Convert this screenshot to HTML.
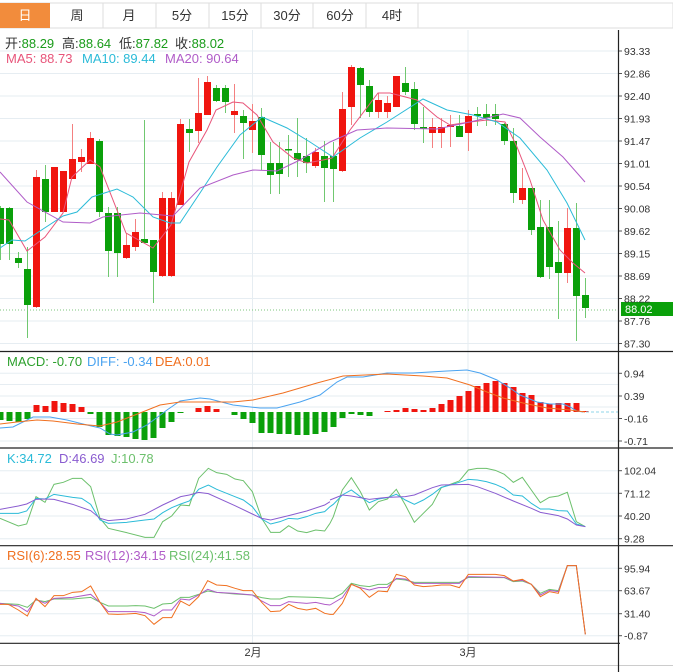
<!DOCTYPE html>
<html><head><meta charset="utf-8"><style>
body{margin:0;background:#fff;width:673px;height:672px;overflow:hidden;font-family:"Liberation Sans","Noto Sans CJK SC",sans-serif;}
svg{position:absolute;left:0;top:0}
text{font-family:"Liberation Sans","Noto Sans CJK SC",sans-serif}
</style></head><body>
<svg id="s" width="673" height="672" xmlns="http://www.w3.org/2000/svg">
<rect x="0" y="3" width="673" height="25" fill="#fff" stroke="#ddd"/>
<rect x="0" y="3" width="50" height="25" fill="#f28c3c"/>
<g stroke="#ddd"><line x1="103" y1="3" x2="103" y2="28"/><line x1="156" y1="3" x2="156" y2="28"/><line x1="209" y1="3" x2="209" y2="28"/><line x1="261" y1="3" x2="261" y2="28"/><line x1="313" y1="3" x2="313" y2="28"/><line x1="366" y1="3" x2="366" y2="28"/><line x1="418" y1="3" x2="418" y2="28"/></g>
<g font-size="13" text-anchor="middle" fill="#333">
<text x="25" y="20" fill="#fff">日</text><text x="77" y="20">周</text><text x="129" y="20">月</text><text x="182" y="20">5分</text><text x="235" y="20">15分</text><text x="287" y="20">30分</text><text x="340" y="20">60分</text><text x="392" y="20">4时</text></g>
<g id="grid" stroke="#e6edf2" stroke-width="1"></g>
<g id="main"></g>
<g font-size="13">
<text x="5" y="48" fill="#333">开:<tspan fill="#1a9c1a">88.29</tspan></text>
<text x="62" y="48" fill="#333">高:<tspan fill="#1a9c1a">88.64</tspan></text>
<text x="119" y="48" fill="#333">低:<tspan fill="#1a9c1a">87.82</tspan></text>
<text x="175" y="48" fill="#333">收:<tspan fill="#1a9c1a">88.02</tspan></text>
<text x="6" y="63" fill="#e8557a">MA5: 88.73</text>
<text x="82" y="63" fill="#2bbbd8">MA10: 89.44</text>
<text x="165" y="63" fill="#b05cc8">MA20: 90.64</text>
<text x="7" y="366" fill="#2ca02c">MACD: -0.70</text>
<text x="87" y="366" fill="#4aa3f0">DIFF: -0.34</text>
<text x="155" y="366" fill="#f07020">DEA:0.01</text>
<text x="7" y="463" fill="#2bbbd8">K:34.72</text>
<text x="59" y="463" fill="#8a5cd0">D:46.69</text>
<text x="111" y="463" fill="#6cc06c">J:10.78</text>
<text x="7" y="560" fill="#f07020">RSI(6):28.55</text>
<text x="85" y="560" fill="#b05cc8">RSI(12):34.15</text>
<text x="169" y="560" fill="#6cc06c">RSI(24):41.58</text>
</g>
<rect x="621" y="302" width="52" height="14" fill="#0aa00a"/>
<text x="625" y="313" font-size="11" fill="#fff">88.02</text>
<g id="axis" font-size="10.5" fill="#333"></g>
<text x="253" y="656" font-size="11" text-anchor="middle" fill="#333">2月</text>
<text x="468" y="656" font-size="11" text-anchor="middle" fill="#333">3月</text>
</svg>
<script>
const S=document.getElementById('s'),G=document.getElementById('grid'),M=document.getElementById('main'),A=document.getElementById('axis');
const NS='http://www.w3.org/2000/svg';
function el(p,t,a){const e=document.createElementNS(NS,t);for(const k in a)e.setAttribute(k,a[k]);p.appendChild(e);return e;}
const mainY=[];for(let i=0;i<14;i++)mainY.push(51+22.5*i);
const priceL=["93.33","92.86","92.40","91.93","91.47","91.01","90.54","90.08","89.62","89.15","88.69","88.22","87.76","87.30"];
mainY.forEach((y,i)=>{el(G,'line',{x1:0,y1:y,x2:618,y2:y});el(A,'line',{x1:618,y1:y,x2:622,y2:y,stroke:'#555'});const t=el(A,'text',{x:624,y:y+4});t.textContent=priceL[i];});
[[373.3,"0.94"],[396,"0.39"],[418.5,"-0.16"],[441,"-0.71"],[470.7,"102.04"],[493.3,"71.12"],[516,"40.20"],[538.7,"9.28"],[568.3,"95.94"],[590.7,"63.67"],[613.7,"31.40"],[635.7,"-0.87"]].forEach(([y,l])=>{el(G,'line',{x1:0,y1:y,x2:618,y2:y});el(A,'line',{x1:618,y1:y,x2:622,y2:y,stroke:'#555'});const t=el(A,'text',{x:624,y:y+4});t.textContent=l;});
el(G,'line',{x1:0,y1:384.5,x2:618,y2:384.5});el(G,'line',{x1:0,y1:407,x2:618,y2:407});
[252.5,468].forEach(x=>el(G,'line',{x1:x,y1:30,x2:x,y2:643}));
[[0,351.5,673],[0,448,673],[0,545.7,673],[0,643.3,620]].forEach(([a,y,b])=>el(S,'line',{x1:a,y1:y,x2:b,y2:y,stroke:'#222','stroke-width':1.2}));
el(S,'line',{x1:0,y1:665.5,x2:673,y2:665.5,stroke:'#ccc'});
el(S,'line',{x1:618.5,y1:30,x2:618.5,y2:672,stroke:'#222','stroke-width':1.2});
el(S,'line',{x1:0,y1:310,x2:618,y2:310,stroke:'#7cc47c','stroke-dasharray':'1,2'});
const C=[[208,244,206,260,'g'],[208,244,207,260,'g'],[258,263,252,268,'g'],[269,305,247,338,'g'],[177,307,170,308,'r'],[179,212,165,222,'g'],[167,212,167,212,'r'],[171,212,171,212,'r'],[159,179,124,179,'r'],[157,162,149,172,'r'],[138,164,132,164,'r'],[141,212,139,217,'g'],[213,251,207,277,'g'],[213,253,207,277,'g'],[245,258,233,259,'r'],[232,247,219,251,'r'],[239,243,120,243,'g'],[240,272,240,303,'g'],[198,276,192,277,'r'],[198,276,192,277,'r'],[124,205,119,205,'r'],[129,133,119,152,'g'],[113,131,78,143,'r'],[82,115,76,115,'r'],[88,101,85,102,'g'],[88,102,85,113,'g'],[111,115,84,133,'r'],[116,123,110,159,'g'],[121,130,104,153,'r'],[117,155,108,170,'g'],[163,175,142,194,'g'],[163,174,142,194,'g'],[149,150,135,177,'g'],[153,160,118,177,'g'],[156,163,138,173,'g'],[152,166,148,168,'r'],[156,168,141,202,'g'],[156,169,142,202,'g'],[109,171,92,172,'r'],[67,107,65,125,'r'],[68,85,67,118,'g'],[86,112,80,117,'g'],[100,112,93,118,'r'],[103,112,96,118,'r'],[76,107,76,107,'r'],[83,92,67,95,'g'],[89,124,82,130,'g'],[127,128,107,143,'g'],[127,133,118,148,'r'],[127,133,118,148,'r'],[125,127,115,147,'r'],[126,137,115,137,'g'],[116,133,110,151,'r'],[114,116,107,126,'g'],[114,118,104,126,'g'],[114,119,104,125,'g'],[124,141,123,145,'g'],[141,193,128,203,'g'],[188,200,168,204,'r'],[188,230,188,235,'g'],[227,277,200,278,'g'],[227,267,200,279,'g'],[262,273,221,319,'g'],[228,273,208,283,'r'],[228,296,203,341,'g'],[295,308,278,318,'g']];
C.forEach((c,k)=>{const x=0.5+9*k;const col=c[4]=='r'?'#f0150f':'#0aa00a',wc=c[4]=='r'?'#f48080':'#70c870';
el(M,'line',{x1:x,y1:c[2],x2:x,y2:c[3],stroke:wc});el(M,'rect',{x:x-3.5,y:c[0],width:7,height:Math.max(1.5,c[1]-c[0]),fill:col});});
function pl(pts,col,ox,oy,sx,sy){return el(M,'polyline',{points:pts.map(p=>(ox+p[0]*sx)+','+(oy+p[1]*sy)).join(' '),fill:'none',stroke:col,'stroke-width':1});}
function pz(a,b,col,y0){pl(a,col,0,y0,1/3,1/3);pl(b,col,330,y0,1/3,1/3);}
pl([[0,219],[9,220],[27,251],[45,237],[63,213],[72,177],[90,160],[100,167],[126,233],[153,248],[171,225],[189,162],[207,130],[216,110],[233,102],[243,103],[257,115],[273,142],[293,158],[307,163],[323,160],[332,158],[350,130],[378,93],[390,93],[417,100],[437,117],[450,125],[470,122],[487,120],[505,122],[517,147],[530,180],[543,220],[560,250],[573,263],[585,273]],'#e8557a',0,0,1,1);
pl([[0,248],[12,240],[25,241],[37,233],[63,216],[77,212],[92,197],[117,189],[133,197],[153,217],[170,223],[180,223],[200,193],[217,167],[240,135],[262,117],[287,128],[310,142],[333,157],[360,138],[387,122],[423,99],[447,110],[473,115],[497,122],[520,138],[547,170],[567,203],[585,240]],'#2bbbd8',0,0,1,1);
pl([[0,172],[27,202],[63,222],[90,223],[103,217],[140,213],[173,216],[200,188],[233,175],[253,170],[277,171],[300,160],[330,142],[357,130],[387,128],[437,129],[470,122],[503,114],[520,118],[540,137],[563,157],[585,182]],'#b05cc8',0,0,1,1);
const H=[-8,-9,-10,-7,7,6,11,9,8,5,-2,-15,-23,-24,-25,-27,-28,-26,-16,-10,-1,0,4,6,3,0,-3,-7,-11,-21,-21,-22,-22,-23,-23,-22,-20,-15,-6,-2,-3,-4,0,1,2,4,3,2,4,8,12,16,21,26,29,31,29,25,19,17,10,8,9,9,9,1];
const z=412;H.forEach((h,k)=>{const x=0.5+9*k;if(h==0)return;el(M,'rect',{x:x-3,y:h>0?z-h:z,width:6,height:Math.abs(h),fill:h>0?'#f0150f':'#0aa00a'});});
el(M,'line',{x1:586,y1:412,x2:618,y2:412,stroke:'#8fd4ea','stroke-dasharray':'3,2'});
pl([[0,428],[13,427],[33,417],[50,417],[67,420],[87,425],[100,428],[110,434],[117,435],[133,432],[147,425],[167,410],[180,401],[200,398],[210,399],[233,405],[260,408],[277,408],[300,402],[320,395],[337,382],[347,377],[363,377],[387,373],[413,373],[430,372],[447,371],[467,370],[480,373],[497,380],[510,388],[520,395],[537,402],[550,404],[563,404],[570,407],[577,411],[583,412]],'#4aa3f0',0,0,1,1);
pl([[0,424],[17,422],[37,420],[53,421],[77,424],[100,426],[117,422],[140,413],[160,405],[180,402],[207,402],[233,402],[253,400],[283,393],[317,383],[343,376],[387,374],[423,376],[447,378],[470,385],[487,392],[503,398],[523,403],[547,408],[570,410],[585,412]],'#f07020',0,0,1,1);
pz([[0,220],[55,243],[80,237],[108,155],[135,172],[162,118],[190,112],[218,100],[245,100],[272,125],[300,220],[325,250],[380,263],[435,277],[462,277],[488,230],[515,213],[542,180],[568,182],[596,100],[625,70],[650,83],[680,88],[705,102],[730,107],[757,140],[785,220],[812,262],[840,262],[866,242],[893,258],[920,263],[947,255],[974,258],[990,235]],[[0,235],[10,215],[37,135],[64,98],[91,140],[118,195],[145,170],[172,162],[199,133],[226,180],[253,232],[280,205],[307,178],[334,128],[361,118],[388,108],[415,75],[442,70],[469,70],[496,76],[523,88],[550,112],[577,97],[604,135],[631,173],[658,157],[685,153],[712,142],[739,230],[766,245]],'#6cc06c',445);
pz([[0,205],[55,205],[80,198],[108,160],[135,162],[162,148],[218,157],[245,160],[272,178],[300,225],[325,235],[380,232],[435,225],[462,222],[488,203],[515,188],[542,177],[568,168],[596,133],[625,120],[650,133],[705,155],[730,165],[757,185],[785,222],[812,237],[840,230],[866,220],[893,222],[920,215],[947,205],[974,200],[990,185]],[[0,185],[10,178],[37,150],[64,135],[91,155],[118,173],[145,162],[172,158],[199,148],[226,165],[253,178],[280,165],[307,148],[334,127],[361,120],[388,112],[415,103],[442,105],[469,110],[496,118],[523,130],[550,150],[577,153],[604,175],[631,192],[658,192],[685,197],[712,198],[739,237],[766,245]],'#2bbbd8',445);
pz([[0,193],[55,183],[80,177],[108,163],[135,162],[162,163],[218,178],[272,197],[300,220],[325,227],[380,222],[435,208],[488,180],[542,155],[568,150],[596,142],[625,146],[705,182],[757,207],[785,220],[812,225],[866,212],[920,198],[974,180],[990,170]],[[0,165],[37,150],[64,153],[118,163],[172,157],[226,155],[253,150],[307,128],[334,120],[415,118],[442,125],[496,145],[550,168],[604,190],[631,202],[685,212],[712,222],[739,240],[766,245]],'#8a5cd0',445);
pz([[0,175],[55,178],[82,187],[108,165],[135,170],[162,162],[218,162],[272,157],[300,172],[325,183],[380,183],[407,182],[435,183],[462,190],[488,177],[515,175],[542,157],[568,157],[596,148],[623,138],[650,142],[705,147],[757,150],[785,158],[812,162],[840,162],[866,155],[947,157],[990,160]],[[0,160],[10,160],[37,145],[64,115],[91,122],[118,125],[145,118],[172,118],[199,102],[226,105],[253,112],[334,112],[388,112],[415,97],[523,98],[550,110],[577,108],[604,118],[631,145],[658,133],[685,137],[712,62],[739,62],[766,268]],'#6cc06c',545);
pz([[0,175],[55,183],[82,200],[108,163],[135,175],[162,160],[218,157],[272,148],[300,172],[325,200],[380,200],[407,200],[435,203],[462,213],[488,195],[515,195],[542,162],[568,165],[596,150],[623,133],[650,142],[705,145],[757,150],[785,168],[812,182],[840,182],[866,170],[893,173],[920,175],[947,172],[974,178],[990,180]],[[0,180],[37,158],[64,118],[91,128],[118,135],[145,128],[172,127],[199,100],[226,102],[253,115],[334,115],[388,115],[415,95],[523,97],[550,108],[577,106],[604,118],[631,150],[658,136],[685,140],[712,62],[739,62],[766,268]],'#b05cc8',545);
pz([[0,178],[25,178],[55,195],[82,213],[108,160],[135,185],[162,152],[190,152],[218,142],[245,140],[272,123],[300,172],[325,207],[353,208],[380,207],[407,205],[435,212],[462,238],[488,218],[515,218],[542,168],[568,182],[596,155],[623,107],[650,120],[680,122],[705,130],[730,137],[757,137],[785,172],[812,200],[840,198],[866,178],[893,190],[920,195],[947,190],[974,205],[990,208]],[[0,208],[10,208],[37,175],[64,118],[91,130],[118,157],[145,138],[172,140],[199,88],[226,95],[253,120],[280,125],[307,123],[334,120],[361,120],[388,128],[415,88],[442,88],[469,88],[496,88],[523,92],[550,108],[577,103],[604,118],[631,155],[658,140],[685,145],[712,62],[739,62],[766,268]],'#f07020',545);
</script>
</body></html>
